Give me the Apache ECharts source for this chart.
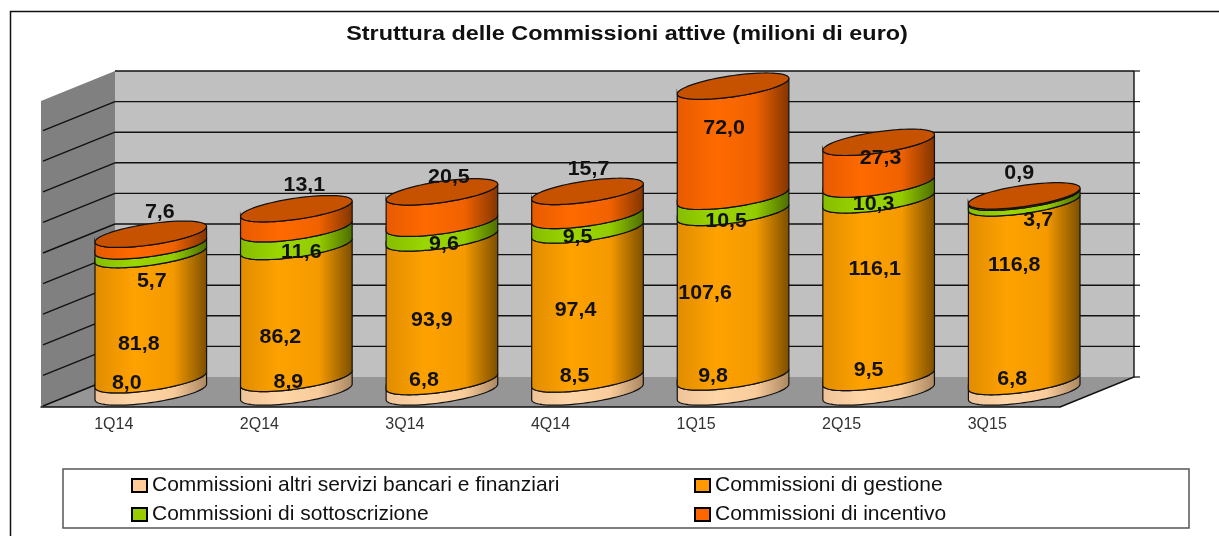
<!DOCTYPE html>
<html>
<head>
<meta charset="utf-8">
<title>Struttura delle Commissioni attive</title>
<style>
html,body{margin:0;padding:0;background:#fff;}
#main{width:1219px;height:536px;}
</style>
<script src="https://cdn.jsdelivr.net/npm/echarts@6/dist/echarts.min.js"></script>
</head>
<body>
<div id="main"></div>
<script>
// dati
var categories = ['1Q14','2Q14','3Q14','4Q14','1Q15','2Q15','3Q15'];
var altriServizi = [8.0,8.9,6.8,8.5,9.8,9.5,6.8];
var gestione = [81.8,86.2,93.9,97.4,107.6,116.1,116.8];
var sottoscrizione = [5.7,11.6,9.6,9.5,10.5,10.3,3.7];
var incentivo = [7.6,13.1,20.5,15.7,72.0,27.3,0.9];
var yTicks = [0,20,40,60,80,100,120,140,160,180,200];

var chartTitle = 'Struttura delle Commissioni attive (milioni di euro)';
var names = ['Commissioni altri servizi bancari e finanziari','Commissioni di gestione','Commissioni di sottoscrizione','Commissioni di incentivo'];

// spostamento etichette rispetto al centro del segmento
var nudgeAltri = [[-24,-4],[-8,-4],[-18,-8],[-13,-11],[-20,-10],[-10,-16],[-12,-9]];
var nudgeGestione = [[-12,26],[-16,24],[-10,9],[-12,5],[-28,-3],[-4,-21],[-10,-28]];
var nudgeSottoscr = [[1,30],[5,13],[2,12],[-10,13],[-7,16],[-5,11],[14,19]];
var nudgeIncentivo = [[9,-29],[8,-35],[7,-32],[1,-35],[-9,-14],[2,-6],[-5,-25]];

// profondita' del finto 3D
var depthX = 74, depthY = -30;
var radX = 45, radDx = 33, radDy = -13.2;
var fontName = '"Liberation Sans", Arial, sans-serif';

function cylPoint(cx, cy, t) {
    return [cx + radX * Math.cos(t) + radDx * Math.sin(t), cy + radDy * Math.sin(t)];
}
var tRight = Math.atan2(radDx, radX);
function frontArc(cx, cy) {
    var pts = [];
    for (var i = 0; i <= 40; i++) {
        pts.push(cylPoint(cx, cy, tRight + Math.PI + Math.PI * i / 40));
    }
    return pts;
}
function fullEllipse(cx, cy) {
    var pts = [];
    for (var i = 0; i < 80; i++) {
        pts.push(cylPoint(cx, cy, Math.PI * 2 * i / 80));
    }
    return pts;
}
function grad(a, b, c, d) {
    return new echarts.graphic.LinearGradient(0, 0, 1, 0, [
        {offset: 0, color: a},
        {offset: 0.35, color: b},
        {offset: 0.7, color: c},
        {offset: 1, color: d}
    ]);
}
var fills = [
    grad('#eec398','#ffd6a8','#f9cb9a','#a98660'),
    grad('#e08c00','#ffa200','#f49a00','#7c4e00'),
    grad('#86bc00','#9ad600','#93cc00','#4d6c00'),
    grad('#e65a00','#ff6a00','#f06200','#823400')
];
var legendColors = ['#ffcc99','#ff9900','#99cc00','#ff6600'];
var topColor = '#c65200';

function fmt(v) {
    return v.toFixed(1).replace('.', ',');
}

function stackedSeries(idx, values, below, nudges) {
    return {
        name: names[idx],
        type: 'custom',
        itemStyle: {color: legendColors[idx]},
        encode: {x: 0, y: [1, 2]},
        data: values.map(function (v, i) {
            return [i, below[i], below[i] + v, v];
        }),
        renderItem: function (params, api) {
            var i = api.value(0);
            var p0 = api.coord([i, api.value(1)]);
            var p1 = api.coord([i, api.value(2)]);
            var cx = p0[0] + depthX / 2;
            var y0 = p0[1] + depthY / 2;
            var y1 = p1[1] + depthY / 2;
            var lower = frontArc(cx, y0);
            var upper = frontArc(cx, y1).reverse();
            var children = [{
                type: 'polygon',
                shape: {points: lower.concat(upper)},
                style: {fill: fills[idx], stroke: '#111', lineWidth: 1.2}
            }];
            if (idx === 3) {
                children.push({
                    type: 'polygon',
                    shape: {points: fullEllipse(cx, y1)},
                    style: {fill: topColor, stroke: '#111', lineWidth: 1.2}
                });
            }
            var n = nudges[i];
            children.push({
                type: 'text',
                z2: 100,
                x: cx + n[0],
                y: (y0 + y1) / 2 + n[1] + 1.5,
                scaleX: 1.07,
                style: {
                    text: fmt(api.value(3)),
                    fill: '#111',
                    font: 'bold 20px ' + fontName,
                    align: 'center',
                    verticalAlign: 'middle'
                }
            });
            return {type: 'group', children: children};
        }
    };
}

function addUp(list) {
    var out = [];
    for (var i = 0; i < categories.length; i++) {
        var s = 0;
        for (var j = 0; j < list.length; j++) {
            s += list[j][i];
        }
        out.push(s);
    }
    return out;
}

var wallSeries = {
    type: 'custom',
    silent: true,
    data: [[0, 0]],
    encode: {x: 0, y: 1},
    renderItem: function (params, api) {
        var c = params.coordSys;
        var l = c.x, r = c.x + c.width, t = c.y, b = c.y + c.height;
        return {type: 'group', children: [
            {type: 'polygon', shape: {points: [[l + depthX, t + depthY], [r + depthX, t + depthY], [r + depthX, b + depthY], [l + depthX, b + depthY]]}, style: {fill: '#c0c0c0'}},
            {type: 'polygon', shape: {points: [[l, t], [l + depthX, t + depthY], [l + depthX, b + depthY], [l, b]]}, style: {fill: '#808080'}},
            {type: 'polygon', shape: {points: [[l, b], [l + depthX, b + depthY], [r + depthX, b + depthY], [r, b]]}, style: {fill: '#969696'}},
            {type: 'polyline', shape: {points: [[r, b], [r + depthX, b + depthY], [r + depthX, t + depthY]]}, style: {fill: 'none', stroke: '#111', lineWidth: 1.4}}
        ]};
    }
};

var gridSeries = {
    type: 'custom',
    silent: true,
    data: yTicks.map(function (v) { return [0, v]; }),
    encode: {x: 0, y: 1},
    renderItem: function (params, api) {
        var c = params.coordSys;
        var v = api.value(1);
        var y = api.coord([0, v])[1];
        var l = c.x, r = c.x + c.width;
        var back = y + depthY;
        var children = [{
            type: 'line',
            shape: {x1: r + depthX, y1: back, x2: r + depthX + 6, y2: back},
            style: {stroke: '#111', lineWidth: 1.2}
        }];
        if (v > 0) {
            children.push({
                type: 'line',
                shape: {x1: l + depthX, y1: back, x2: r + depthX, y2: back},
                style: {stroke: '#111', lineWidth: 1.4}
            });
        }
        if (v < 200) {
            children.push({
                type: 'line',
                shape: {x1: l + 2, y1: y - 1, x2: l + depthX, y2: back},
                style: {stroke: '#111', lineWidth: 1.4}
            });
        }
        return {type: 'group', children: children};
    }
};

var myChart = echarts.init(document.getElementById('main'));
var option = {
    animation: false,
    backgroundColor: '#fff',
    grid: {left: 41, right: 159, top: 101, bottom: 129},
    xAxis: {
        type: 'category',
        data: categories,
        axisLine: {lineStyle: {color: '#111', width: 1.5}},
        axisTick: {length: 5, lineStyle: {color: '#111'}},
        axisLabel: {color: '#333', fontSize: 16, margin: 10, fontFamily: fontName},
        z: 5
    },
    yAxis: {type: 'value', min: 0, max: 200, interval: 20, show: false},
    legend: [{
        data: [names[0], names[2]],
        orient: 'vertical',
        left: 126,
        top: 470,
        icon: 'rect',
        itemWidth: 15,
        itemHeight: 13,
        itemGap: 8,
        selectedMode: false,
        itemStyle: {borderColor: '#000', borderWidth: 2},
        textStyle: {color: '#111', fontSize: 21, fontFamily: fontName}
    }, {
        data: [names[1], names[3]],
        orient: 'vertical',
        left: 689,
        top: 470,
        icon: 'rect',
        itemWidth: 15,
        itemHeight: 13,
        itemGap: 8,
        selectedMode: false,
        itemStyle: {borderColor: '#000', borderWidth: 2},
        textStyle: {color: '#111', fontSize: 21, fontFamily: fontName}
    }],
    graphic: [
        {type: 'polyline', silent: true, shape: {points: [[10.5, 536], [10.5, 11.5], [1219, 11.5]]}, style: {fill: 'none', stroke: '#111', lineWidth: 1.5}},
        {type: 'rect', silent: true, z: -1, shape: {x: 63, y: 469, width: 1126, height: 59}, style: {fill: '#fff', stroke: '#555', lineWidth: 1.5}},
        {type: 'text', silent: true, x: 627, y: 34, scaleX: 1.17, style: {text: chartTitle, fill: '#111', font: 'bold 20px ' + fontName, align: 'center', verticalAlign: 'middle'}}
    ],
    series: [
        wallSeries,
        gridSeries,
        stackedSeries(0, altriServizi, categories.map(function () { return 0; }), nudgeAltri),
        stackedSeries(1, gestione, addUp([altriServizi]), nudgeGestione),
        stackedSeries(2, sottoscrizione, addUp([altriServizi, gestione]), nudgeSottoscr),
        stackedSeries(3, incentivo, addUp([altriServizi, gestione, sottoscrizione]), nudgeIncentivo)
    ]
};
myChart.setOption(option);
window.addEventListener('resize', function () {
    myChart.resize();
});
</script>
</body>
</html>
